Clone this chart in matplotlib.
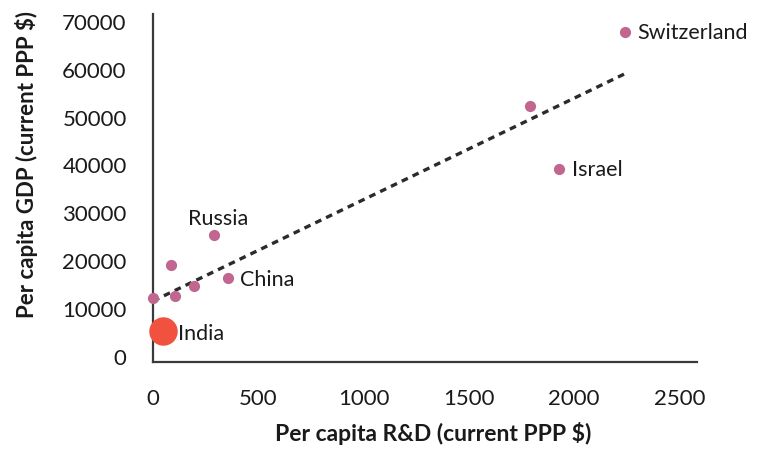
import numpy as np
import matplotlib
matplotlib.use("Agg")
import matplotlib.pyplot as plt

plt.rcParams['font.family'] = ['Lato', 'DejaVu Sans']

countries = ["Switzerland", "", "Israel", "Russia", "", "China", "", "", "", "India"]
rd = [2240, 1790, 1930, 290, 85, 355, 195, 105, 0, 47]
gdp = [67700, 52200, 39000, 25200, 18900, 16200, 14600, 12500, 12000, 5100]

x_ticks = [0, 500, 1000, 1500, 2000, 2500]
y_ticks = [0, 10000, 20000, 30000, 40000, 50000, 60000, 70000]

point_color = "#C1668F"
india_color = "#F0523F"
text_color = "#1a1a1a"

fig = plt.figure(figsize=(7.58, 4.52), dpi=100)
ax = fig.add_axes([0.202, 0.197, 0.718, 0.770])

rd_a = np.array(rd, dtype=float)
gdp_a = np.array(gdp, dtype=float)

# trend line
m, b = np.polyfit(rd_a, gdp_a, 1)
xs = np.array([0, rd_a.max()])
ax.plot(xs, m * xs + b, color="#2b2b2b", lw=2.4, dashes=(2.0, 1.6), zorder=2)

for name, x, y in zip(countries, rd, gdp):
    if name == "India":
        ax.scatter(x, y, s=420, color=india_color, zorder=3, linewidths=0, clip_on=False)
    else:
        ax.scatter(x, y, s=65, color=point_color, zorder=3, linewidths=0, clip_on=False)

offsets = {
    "Switzerland": (9, 0, "left", "center"),
    "Israel": (9, 0, "left", "center"),
    "China": (9, -1, "left", "center"),
    "India": (11, -1, "left", "center"),
    "Russia": (3, 8, "center", "baseline"),
}
for name, x, y in zip(countries, rd, gdp):
    if name in offsets:
        dx, dy, ha, va = offsets[name]
        ax.annotate(name, (x, y), xytext=(dx, dy), textcoords="offset points",
                    ha=ha, va=va, fontsize=15.5, color=text_color, zorder=4)

ax.set_xlim(0, 2585)
ax.set_ylim(-1340, 71460)
ax.set_xticks(x_ticks)
ax.set_yticks(y_ticks)
ax.set_xticklabels([str(v) for v in x_ticks])
ax.set_yticklabels([str(v) for v in y_ticks])
ax.tick_params(axis='both', length=0, labelsize=16, colors=text_color)
ax.tick_params(axis='y', pad=19)
ax.tick_params(axis='x', pad=19)

for s in ["top", "right"]:
    ax.spines[s].set_visible(False)
for s in ["left", "bottom"]:
    ax.spines[s].set_color("#3a3a3a")
    ax.spines[s].set_linewidth(1.6)

ax.set_xlabel("Per capita R&D (current PPP $)", fontsize=16.5, fontweight="bold",
              color=text_color)
ax.set_ylabel("Per capita GDP (current PPP $)", fontsize=16, fontweight="bold",
              color=text_color)
ax.xaxis.set_label_coords(0.514, -0.17)
ax.yaxis.set_label_coords(-0.211, 0.571)

fig.savefig("out.png", dpi=100)
